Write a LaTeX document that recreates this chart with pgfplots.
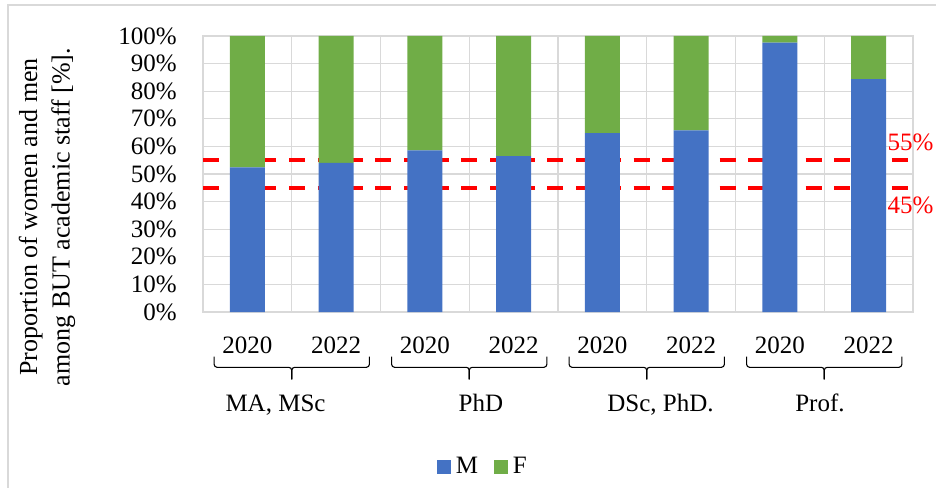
\documentclass[border=0pt]{standalone}
\usepackage{pgfplots}
\pgfplotsset{compat=1.18}
\usepackage{pgfplotstable}
\usepackage{fontspec}
\setmainfont{Liberation Serif}

\definecolor{mblue}{HTML}{4472C4}
\definecolor{fgreen}{HTML}{70AD47}
\definecolor{gridgray}{HTML}{D9D9D9}
\definecolor{refred}{HTML}{FF0000}

% square legend swatch
\pgfplotsset{sqlegend/.style={legend image code/.code={\fill[##1] (0bp,-6.85bp) rectangle (13.7bp,6.85bp);}}}

% Share of men (M) and women (F) per degree group and year, in %
\pgfplotstableread{
x  M     F
0  52.4  47.6
1  54.0  46.0
2  58.6  41.4
3  56.5  43.5
4  64.8  35.2
5  65.8  34.2
6  97.6   2.4
7  84.4  15.6
}\staffshare

\begin{document}
\fontsize{25bp}{29bp}\selectfont
\begin{tikzpicture}[font=\fontsize{25bp}{29bp}\selectfont]
\useasboundingbox (0,0) rectangle (936bp,488bp);
% chart area frame
\draw[gridgray, line width=1.5bp] (8bp,0) -- (8bp,483bp) -- (936bp,483bp);
\begin{axis}[
  at={(203bp,176bp)}, anchor=south west,
  scale only axis, width=710bp, height=276bp,
  ybar stacked, bar width=35bp,
  xmin=-0.5, xmax=7.5, ymin=0, ymax=100,
  clip=false,
  /pgf/number format/assume math mode=true,
  xtick={0,...,7},
  xticklabels={2020,2022,2020,2022,2020,2022,2020,2022},
  minor xtick={-0.5,0.5,...,7.5},
  xmajorgrids=false, xminorgrids=true,
  ytick={0,10,...,100},
  ymajorgrids=true,
  yticklabel={\pgfmathprintnumber{\tick}\%},
  major tick length=0pt, minor tick length=0pt,
  grid style={gridgray, line width=1.3bp},
  minor grid style={gridgray, line width=1.3bp},
  axis line style={gridgray, line width=1.3bp},
  yticklabel style={anchor=east, inner sep=0pt, xshift=-26bp},
  xticklabel style={anchor=base, inner sep=0pt, yshift=-41.3bp},
  ylabel={Proportion of women and men\\among BUT academic staff [\%].},
  ylabel style={at={(axis description cs:-0.2197,0.344)}, anchor=center,
                align=center, inner sep=0pt,
                font=\fontsize{26bp}{32.5bp}\selectfont},
  legend columns=2,
  legend style={at={(axis description cs:0.3296,-0.5616)}, anchor=west,
                draw=none, fill=none, inner sep=0pt,
                nodes={inner sep=0pt},
                /tikz/every odd column/.append style={column sep=5bp},
                /tikz/every even column/.append style={column sep=16bp}},
]
\addplot[fill=mblue, draw=none, sqlegend] table[x=x, y=M] {\staffshare};
\addplot[fill=fgreen, draw=none, sqlegend] table[x=x, y=F] {\staffshare};
\legend{M,F}

% parity band limits
\draw[refred, line width=4bp, dash pattern=on 16bp off 12.7bp]
  (axis cs:-0.5,55) -- (axis cs:7.534,55);
\draw[refred, line width=4bp, dash pattern=on 16bp off 12.7bp]
  (axis cs:-0.5,45) -- (axis cs:7.534,45);
\node[refred, inner sep=0pt] at (axis cs:7.472,61.4) {55\%};
\node[refred, inner sep=0pt] at (axis cs:7.472,38.8) {45\%};

% group brackets under the year labels
\draw[line width=1.1bp, rounded corners=3bp]
  ([yshift=-44.7bp]axis cs:-0.375,0) -- ([yshift=-55.3bp]axis cs:-0.375,0)
  -- ([yshift=-55.3bp]axis cs:0.5,0) -- ([yshift=-67.3bp]axis cs:0.5,0);
\draw[line width=1.1bp, rounded corners=3bp]
  ([yshift=-44.7bp]axis cs:1.375,0) -- ([yshift=-55.3bp]axis cs:1.375,0)
  -- ([yshift=-55.3bp]axis cs:0.5,0) -- ([yshift=-67.3bp]axis cs:0.5,0);
\draw[line width=1.1bp, rounded corners=3bp]
  ([yshift=-44.7bp]axis cs:1.625,0) -- ([yshift=-55.3bp]axis cs:1.625,0)
  -- ([yshift=-55.3bp]axis cs:2.5,0) -- ([yshift=-67.3bp]axis cs:2.5,0);
\draw[line width=1.1bp, rounded corners=3bp]
  ([yshift=-44.7bp]axis cs:3.375,0) -- ([yshift=-55.3bp]axis cs:3.375,0)
  -- ([yshift=-55.3bp]axis cs:2.5,0) -- ([yshift=-67.3bp]axis cs:2.5,0);
\draw[line width=1.1bp, rounded corners=3bp]
  ([yshift=-44.7bp]axis cs:3.625,0) -- ([yshift=-55.3bp]axis cs:3.625,0)
  -- ([yshift=-55.3bp]axis cs:4.5,0) -- ([yshift=-67.3bp]axis cs:4.5,0);
\draw[line width=1.1bp, rounded corners=3bp]
  ([yshift=-44.7bp]axis cs:5.375,0) -- ([yshift=-55.3bp]axis cs:5.375,0)
  -- ([yshift=-55.3bp]axis cs:4.5,0) -- ([yshift=-67.3bp]axis cs:4.5,0);
\draw[line width=1.1bp, rounded corners=3bp]
  ([yshift=-44.7bp]axis cs:5.625,0) -- ([yshift=-55.3bp]axis cs:5.625,0)
  -- ([yshift=-55.3bp]axis cs:6.5,0) -- ([yshift=-67.3bp]axis cs:6.5,0);
\draw[line width=1.1bp, rounded corners=3bp]
  ([yshift=-44.7bp]axis cs:7.375,0) -- ([yshift=-55.3bp]axis cs:7.375,0)
  -- ([yshift=-55.3bp]axis cs:6.5,0) -- ([yshift=-67.3bp]axis cs:6.5,0);

% degree group names
\node[anchor=base, inner sep=0pt] at ([yshift=-99bp]axis cs:0.317,0) {MA, MSc};
\node[anchor=base, inner sep=0pt] at ([yshift=-99bp]axis cs:2.632,0) {PhD};
\node[anchor=base, inner sep=0pt] at ([yshift=-99bp]axis cs:4.655,0) {DSc, PhD.};
\node[anchor=base, inner sep=0pt] at ([yshift=-99bp]axis cs:6.452,0) {Prof.};
\end{axis}
\end{tikzpicture}
\end{document}
